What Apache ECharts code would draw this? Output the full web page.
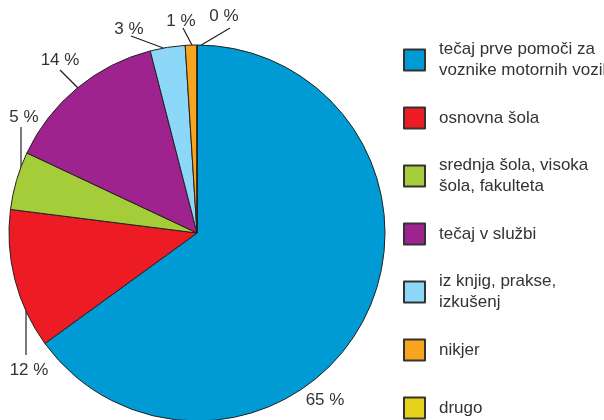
<!DOCTYPE html>
<html>
<head>
<meta charset="utf-8">
<script src="https://cdn.jsdelivr.net/npm/echarts@6/dist/echarts.min.js"></script>
<style>
  html, body { margin: 0; padding: 0; background: #fff; }
  #chart { width: 604px; height: 420px; }
</style>
</head>
<body>
<div id="chart"></div>
<script>
// kje so se naučili prve pomoči (delež v %)
const categories = [
  'tečaj prve pomoči za\nvoznike motornih vozil',
  'osnovna šola',
  'srednja šola, visoka\nšola, fakulteta',
  'tečaj v službi',
  'iz knjig, prakse,\nizkušenj',
  'nikjer',
  'drugo'
];
const shares = [65, 12, 5, 14, 3, 1, 0];
const colors = ['#009bd5', '#ed1c24', '#a5cd39', '#9e238f', '#8dd8f8', '#f7a51c', '#e6d21b'];

// label placement (text centre) and leader lines, as in the printed figure
const labelSpots = [[325, 400], [29, 370], [24, 117], [60, 60], [129, 29], [181, 21], [224, 16]];
const leaderLines = [
  null,
  [[26, 311], [26, 355]],
  [[21, 127], [21, 171]],
  [[80, 90], [60, 70]],
  [[166, 49], [131, 36]],
  [[193, 47], [183, 28]],
  [[198, 47], [230, 28]]
];

const font = "'Liberation Sans', Arial, Helvetica, sans-serif";
const ink = '#231f20';
const textInk = '#333';

const chart = echarts.init(document.getElementById('chart'), null, { renderer: 'canvas' });

chart.setOption({
  animation: false,
  color: colors,
  legend: {
    orient: 'vertical',
    left: 403,
    top: 39,
    height: 400,
    padding: 0,
    itemGap: 16,
    itemWidth: 21,
    itemHeight: 21,
    icon: 'rect',
    selectedMode: false,
    itemStyle: { borderColor: '#333', borderWidth: 2 },
    textStyle: { fontFamily: font, fontSize: 17, color: textInk, lineHeight: 21 },
    data: categories.map(name => ({
      name: name,
      textStyle: {
        padding: name.indexOf('\n') >= 0 ? [0, 0, 0, 9] : [10.5, 0, 10.5, 9]
      }
    }))
  },
  series: [
    {
      type: 'pie',
      center: [197, 233],
      radius: 188,
      startAngle: 90,
      clockwise: true,
      avoidLabelOverlap: false,
      itemStyle: { borderColor: ink, borderWidth: 1 },
      label: {
        show: true,
        position: 'outside',
        formatter: '{c} %',
        fontFamily: font,
        fontSize: 17,
        color: textInk
      },
      labelLine: {
        show: true,
        lineStyle: { color: ink, width: 1.2 }
      },
      labelLayout: function (params) {
        const i = params.dataIndex;
        const out = {
          x: labelSpots[i][0],
          y: labelSpots[i][1],
          align: 'center',
          verticalAlign: 'middle'
        };
        if (leaderLines[i]) {
          out.labelLinePoints = leaderLines[i];
        }
        return out;
      },
      emphasis: { disabled: true },
      data: categories.map((name, i) => ({
        name: name,
        value: shares[i],
        labelLine: { show: leaderLines[i] !== null }
      }))
    }
  ]
});
</script>
</body>
</html>
